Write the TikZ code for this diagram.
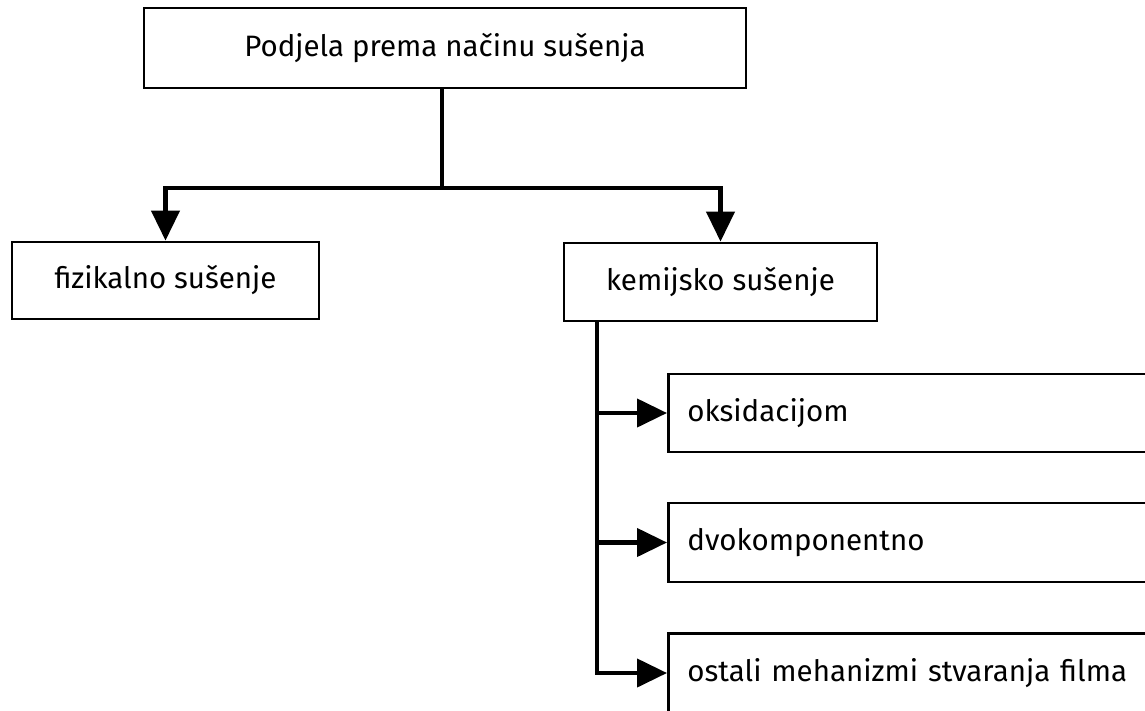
\documentclass[tikz,border=0pt]{standalone}
\usepackage{fontspec}
\setmainfont{Fira Sans}
\usetikzlibrary{arrows.meta}
\begin{document}
\begin{tikzpicture}[x=1pt,y=-1pt,
  box/.style={draw=black, line width=2.8pt, rectangle, inner sep=0pt, font=\fontsize{29.5}{34}\selectfont},
  conn/.style={draw=black, line width=4.2pt},
  tip/.style={-{Triangle[length=30pt,width=28pt]}}
]
\clip (0,0) rectangle (1145,710);
\fill[white] (0,0) rectangle (1145,710);

\node[box, minimum width=602pt, minimum height=80pt] (top) at (445,48) {Podjela prema načinu sušenja};
\node[box, minimum width=307pt, minimum height=77pt] (fiz) at (165.5,280.5) {fizikalno sušenje};
\node[box, minimum width=313pt, minimum height=78pt] (kem) at (720.5,282) {kemijsko sušenje};

\node[box, anchor=west, minimum height=78pt, text width=460pt, align=left, inner xsep=19pt] (r1) at (667,413) {oksidacijom};
\node[box, anchor=west, minimum height=79pt, text width=460pt, align=left, inner xsep=19pt] (r2) at (667,542.5) {dvokomponentno};
\node[box, anchor=west, minimum height=79pt, text width=460pt, align=left, inner xsep=19pt] (r3) at (667,673) {ostali mehanizmi stvaranja filma};

\coordinate (j) at (442,188);
\draw[conn] (top.south -| j) -- (j);
\draw[conn, tip] (j) -| (fiz.north);
\draw[conn, tip] (j) -| (kem.north);

\coordinate (k) at (597,321);
\draw[conn] (k |- kem.south) -- (k |- r3.west);
\draw[conn, tip] (k |- r1.west) -- (r1.west);
\draw[conn, tip] (k |- r2.west) -- (r2.west);
\draw[conn, tip] ([xshift=-2pt]k |- r3.west) -- (r3.west);
\end{tikzpicture}
\end{document}
